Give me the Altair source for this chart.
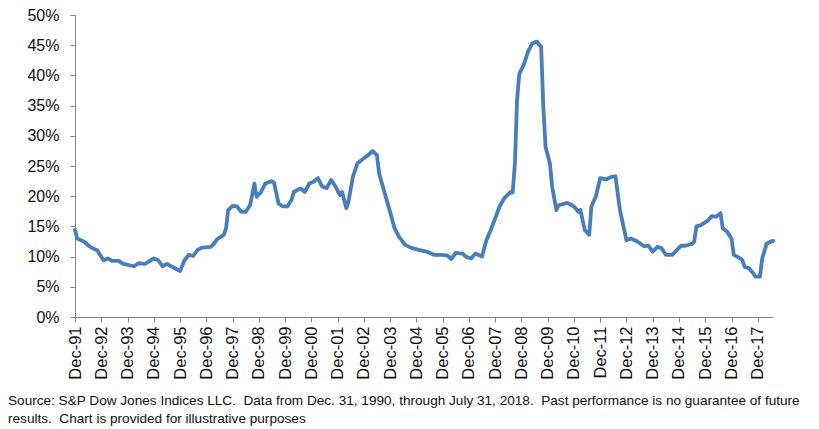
import altair as alt
import pandas as pd

months = [
    "1991-12", "1992-01", "1992-04", "1992-07", "1992-09", "1992-10", "1993-01", "1993-03", "1993-05", "1993-08",
    "1993-10", "1994-03", "1994-05", "1994-08", "1994-12", "1995-02", "1995-04", "1995-06", "1995-09", "1995-12",
    "1996-02", "1996-04", "1996-06", "1996-08", "1996-10", "1997-02", "1997-03", "1997-05", "1997-08", "1997-09",
    "1997-10", "1997-12", "1998-02", "1998-04", "1998-06", "1998-08", "1998-10", "1998-11", "1999-01", "1999-03",
    "1999-06", "1999-07", "1999-09", "1999-11", "2000-01", "2000-03", "2000-04", "2000-07", "2000-09", "2000-11",
    "2001-01", "2001-03", "2001-05", "2001-07", "2001-09", "2001-11", "2002-01", "2002-02", "2002-04", "2002-05",
    "2002-07", "2002-09", "2002-12", "2003-02", "2003-04", "2003-06", "2003-07", "2003-10", "2003-12", "2004-02",
    "2004-04", "2004-07", "2004-10", "2005-01", "2005-05", "2005-08", "2005-11", "2006-02", "2006-04", "2006-06",
    "2006-09", "2006-11", "2007-01", "2007-03", "2007-06", "2007-08", "2007-10", "2007-12", "2008-02", "2008-04",
    "2008-07", "2008-08", "2008-09", "2008-10", "2008-11", "2009-01", "2009-03", "2009-05", "2009-07", "2009-09",
    "2009-10", "2009-11", "2010-01", "2010-02", "2010-04", "2010-05", "2010-09", "2010-12", "2011-02", "2011-03",
    "2011-05", "2011-07", "2011-08", "2011-10", "2011-12", "2012-03", "2012-05", "2012-07", "2012-08", "2012-09",
    "2012-12", "2013-02", "2013-05", "2013-08", "2013-10", "2013-12", "2014-02", "2014-04", "2014-06", "2014-09",
    "2014-11", "2015-01", "2015-03", "2015-06", "2015-07", "2015-08", "2015-10", "2016-01", "2016-03", "2016-05",
    "2016-07", "2016-08", "2016-10", "2016-12", "2017-01", "2017-04", "2017-05", "2017-06", "2017-08", "2017-10",
    "2017-11", "2018-01", "2018-02", "2018-03", "2018-04", "2018-06", "2018-07",
]
values = [
    14.4, 13.0, 12.5, 11.6, 11.2, 11.1, 9.4, 9.7, 9.3, 9.3,
    8.8, 8.4, 8.9, 8.8, 9.7, 9.4, 8.4, 8.8, 8.2, 7.6,
    9.4, 10.3, 10.1, 11.1, 11.5, 11.6, 11.9, 12.9, 13.6, 14.7,
    17.7, 18.4, 18.3, 17.4, 17.4, 18.5, 22.1, 19.9, 20.7, 22.1,
    22.5, 22.2, 18.8, 18.3, 18.3, 19.4, 20.7, 21.3, 20.7, 22.1,
    22.4, 23.0, 21.6, 21.3, 22.7, 21.6, 20.2, 20.7, 18.0, 19.1,
    23.2, 25.4, 26.3, 26.8, 27.5, 26.8, 23.8, 19.9, 17.4, 14.7,
    13.3, 11.9, 11.4, 11.1, 10.8, 10.3, 10.3, 10.2, 9.6, 10.6,
    10.5, 9.9, 9.7, 10.5, 10.0, 12.7, 14.4, 16.3, 18.3, 19.6,
    20.7, 20.6, 25.4, 35.9, 40.3, 41.7, 43.9, 45.3, 45.6, 44.7,
    34.8, 28.2, 25.4, 21.6, 17.7, 18.5, 18.9, 18.3, 17.4, 17.7,
    14.4, 13.6, 18.3, 19.9, 23.0, 22.8, 23.2, 23.3, 20.5, 17.7,
    12.7, 13.0, 12.5, 11.7, 11.8, 10.8, 11.6, 11.4, 10.3, 10.3,
    11.1, 11.8, 11.8, 12.1, 12.5, 15.0, 15.2, 15.9, 16.7, 16.6,
    17.2, 14.7, 14.1, 13.0, 10.3, 9.7, 9.4, 8.3, 8.1, 7.2,
    6.7, 6.7, 9.7, 10.8, 12.1, 12.5, 12.6,
]
tick_years = list(range(1991, 2018))
y_ticks = [0, 5, 10, 15, 20, 25, 30, 35, 40, 45, 50]
NB2 = "\u00a0 "
source_lines = [
    "Source: S&P Dow Jones Indices LLC." + NB2 + "Data from Dec. 31, 1990, through July 31, 2018." + NB2
    + "Past performance is no guarantee of future",
    "results." + NB2 + "Chart is provided for illustrative purposes",
]

df = pd.DataFrame({"date": [m + "-01" for m in months], "value": values})

FONT = "Liberation Sans"
AXIS_GRAY = "#868686"

chart = (
    alt.Chart(df)
    .mark_line(color="#4A7EBB", strokeWidth=3.8, strokeJoin="round", strokeCap="round")
    .encode(
        x=alt.X(
            "date:T",
            scale=alt.Scale(
                type="utc",
                domain=[
                    alt.DateTime(year=1991, month=12, date=1, utc=True),
                    alt.DateTime(year=2018, month=7, date=1, utc=True),
                ],
                nice=False,
            ),
            axis=alt.Axis(
                values=[alt.DateTime(year=y, month=12, date=1, utc=True) for y in tick_years],
                format="%b-%y",
                labelAngle=-90,
                labelFont=FONT,
                labelFontSize=16.5,
                labelColor="#111111",
                labelPadding=4,
                tickSize=5,
                tickColor=AXIS_GRAY,
                domainColor=AXIS_GRAY,
                grid=False,
                title=None,
                labelOverlap=False,
                labelFlush=False,
            ),
        ),
        y=alt.Y(
            "value:Q",
            scale=alt.Scale(domain=[0, 50], nice=False),
            axis=alt.Axis(
                values=y_ticks,
                labelExpr="datum.value + '%'",
                labelFont=FONT,
                labelFontSize=16,
                labelColor="#111111",
                labelPadding=11,
                tickSize=5,
                tickColor=AXIS_GRAY,
                domainColor=AXIS_GRAY,
                grid=False,
                title=None,
            ),
        ),
    )
    .properties(
        width=698,
        height=302,
        autosize=alt.AutoSizeParams(type="none"),
        padding={"left": 67, "top": 7, "right": 38, "bottom": 110},
        title=alt.TitleParams(
            text=source_lines,
            orient="bottom",
            anchor="start",
            frame="group",
            dx=-67,
            offset=15,
            font=FONT,
            fontSize=13.6,
            fontWeight="normal",
            color="#111111",
            lineHeight=18,
        ),
    )
    .configure_view(stroke=None)
)

chart.save("out.html", embed_options={"renderer": "svg", "actions": False})
